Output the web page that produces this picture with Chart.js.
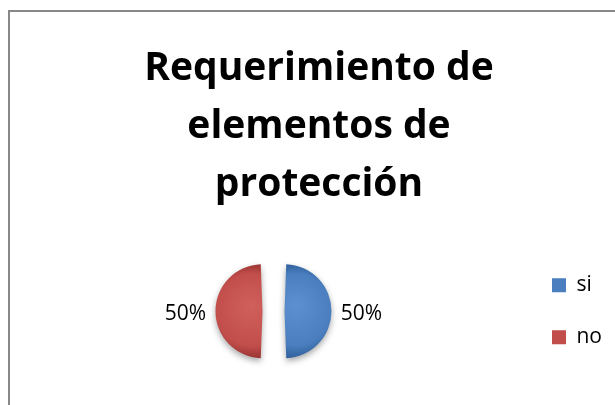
<!DOCTYPE html>
<html>
<head>
<meta charset="utf-8">
<script src="https://cdn.jsdelivr.net/npm/chart.js@4"></script>
<style>
  html, body { margin: 0; padding: 0; background: #fff; overflow: hidden; }
  body { width: 615px; height: 405px; position: relative; }
  #frame { position: absolute; left: 8px; top: 10px; width: 620px; height: 400px;
           border-top: 2px solid #888; border-left: 2px solid #888; }
  #wrap { position: absolute; left: 10px; top: 12px; width: 605px; height: 393px; }
</style>
</head>
<body>
<div id="frame"></div>
<div id="wrap"><canvas id="myChart"></canvas></div>
<script>
let categorias = ['si', 'no'];
let valores = [50, 50];
let colores = ['#4A7EBE', '#C24E4B'];
let claros = ['#5C90D0', '#D0605C'];
let oscuros = ['#2F5E99', '#963331'];

// degradado de cada porcion, centrado en su arco
function relleno(context) {
    let chart = context.chart;
    let area = chart.chartArea;
    let i = context.dataIndex;
    if (!area) return colores[i];
    let cx = (area.left + area.right) / 2 + (i === 0 ? 11 : -11);
    let cy = (area.top + area.bottom) / 2;
    let g = chart.ctx.createRadialGradient(cx, cy - 6, 0, cx, cy, 48);
    g.addColorStop(0, claros[i]);
    g.addColorStop(0.75, colores[i]);
    g.addColorStop(1, oscuros[i]);
    return g;
}

let etiquetas = {
    id: 'etiquetas',
    beforeDatasetsDraw(chart) {
        let c = chart.ctx;
        c.save();
        c.shadowColor = 'rgba(0,0,0,0.35)';
        c.shadowBlur = 6;
        c.shadowOffsetY = 3;
    },
    afterDatasetsDraw(chart) {
        let c = chart.ctx;
        c.restore();
        let meta = chart.getDatasetMeta(0);
        let total = valores.reduce((a, b) => a + b, 0);
        c.save();
        c.font = '21px "Open Sans"';
        c.fillStyle = '#000';
        c.textAlign = 'center';
        c.textBaseline = 'middle';
        meta.data.forEach((arc, i) => {
            let p = arc.getProps(['x', 'y', 'startAngle', 'endAngle', 'outerRadius'], true);
            let mid = (p.startAngle + p.endAngle) / 2;
            let r = p.outerRadius + 52;
            let txt = Math.round(valores[i] / total * 100) + '%';
            c.fillText(txt, p.x + Math.cos(mid) * r, p.y + Math.sin(mid) * r + 3);
        });
        c.restore();
    }
};

let ctx = document.getElementById('myChart');
let myChart = new Chart(ctx, {
    type: 'pie',
    data: {
        labels: categorias,
        datasets: [{
            data: valores,
            backgroundColor: relleno,
            borderWidth: 0,
            offset: 44,
            radius: 36
        }]
    },
    options: {
        responsive: true,
        maintainAspectRatio: false,
        animation: false,
        layout: { padding: { left: 16, right: 3, top: 0, bottom: 0 } },
        plugins: {
            title: {
                display: true,
                text: ['Requerimiento de', 'elementos de', 'protección'],
                color: '#000',
                font: { family: 'Open Sans', size: 39, weight: 'bold', lineHeight: 1.49 },
                padding: { top: 28, bottom: 3 }
            },
            legend: {
                position: 'right',
                fullSize: false,
                labels: {
                    color: '#000',
                    font: { family: 'Open Sans', size: 21 },
                    boxWidth: 14,
                    boxHeight: 14,
                    padding: 31,
                    generateLabels(chart) {
                        return categorias.map((t, i) => ({
                            text: t,
                            fillStyle: colores[i],
                            strokeStyle: colores[i],
                            lineWidth: 0,
                            hidden: false,
                            index: i
                        }));
                    }
                }
            },
            tooltip: { enabled: false }
        }
    },
    plugins: [etiquetas]
});
</script>
</body>
</html>
